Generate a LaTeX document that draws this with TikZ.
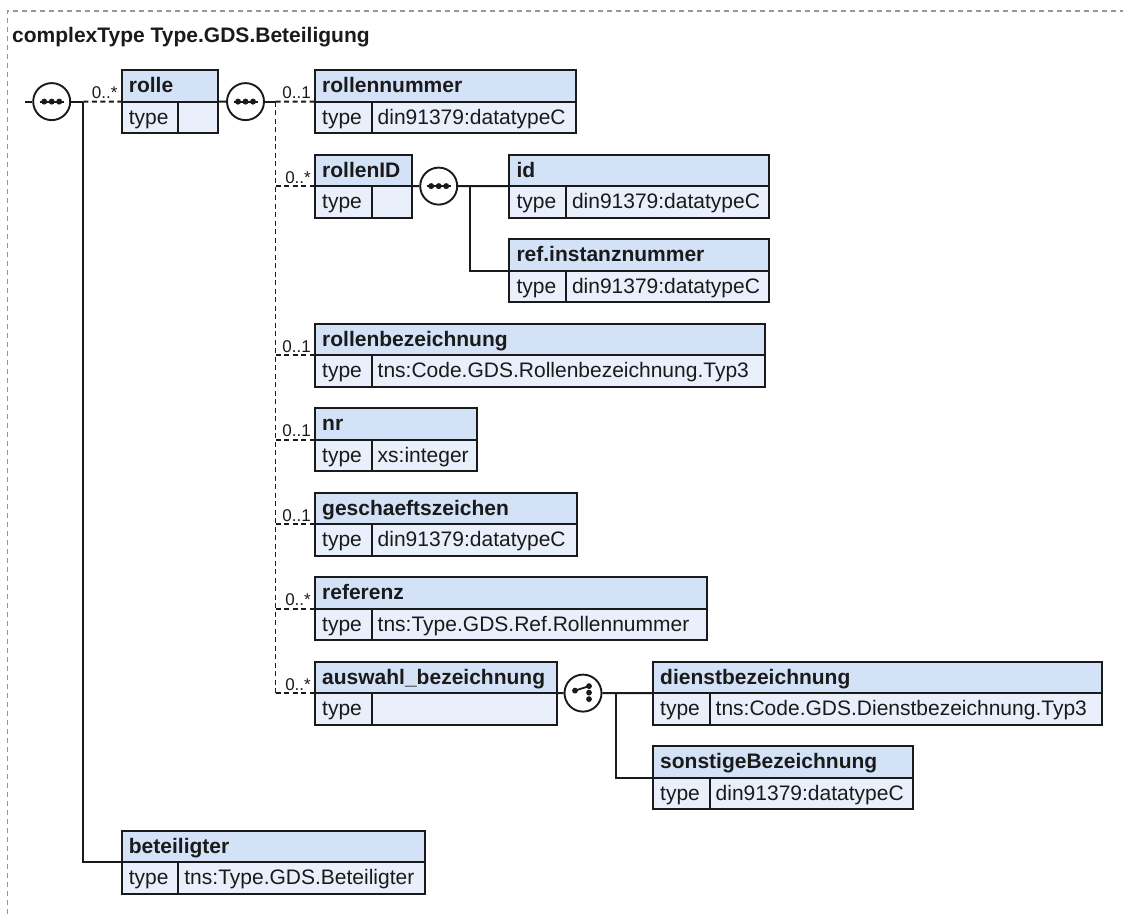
\documentclass[tikz,border=0pt]{standalone}
\usepackage{fontspec}
\setmainfont{Liberation Sans}
\definecolor{hdr}{RGB}{212,226,247}
\definecolor{typ}{RGB}{233,240,252}
\definecolor{ink}{RGB}{26,26,26}
\definecolor{framegray}{RGB}{150,150,150}
\tikzset{
  boxline/.style={draw=ink, line width=2pt},
  conn/.style={draw=ink, line width=1.9pt},
  optconn/.style={conn, dash pattern=on 5pt off 3.5pt},
  compositor/.style={circle, draw=ink, line width=1.9pt, fill=white, minimum size=37pt, inner sep=0pt},
  hdrtext/.style={font=\fontsize{21}{25}\selectfont\bfseries, text=ink, inner sep=0pt, anchor=base west},
  typtext/.style={font=\fontsize{21}{25}\selectfont, text=ink, inner sep=0pt, anchor=base west},
  mult/.style={font=\fontsize{17}{20}\selectfont, text=ink, inner sep=0pt, anchor=base east},
}
% #1 name, #2 left x, #3 top y, #4 width, #5 element name, #6 type value
\newcommand{\xsdelem}[6]{%
  \fill[hdr] (#2,#3) rectangle (#2+#4,#3+31.6);
  \fill[typ] (#2,#3+31.6) rectangle (#2+#4,#3+63.2);
  \draw[boxline] (#2,#3+31.6) -- (#2+#4,#3+31.6);
  \draw[boxline] (#2+56.5,#3+31.6) -- (#2+56.5,#3+63.2);
  \node[boxline, rectangle, inner sep=0pt, outer sep=0pt, minimum width=#4 pt, minimum height=63.2pt, anchor=north west] (#1) at (#2,#3) {};
  \node[hdrtext] (#1-name) at (#2+7,#3+22.6) {#5};
  \node[typtext] (#1-type) at (#2+7,#3+54) {type};
  \node[typtext] (#1-val) at (#2+62.5,#3+54) {#6};
}
\newcommand{\seqicon}[1]{%
  \draw[ink, line width=1.8pt] ([xshift=-12pt]#1.center) -- ([xshift=12pt]#1.center);
  \foreach \dx in {-7.5,0,7.5} \fill[ink] ([xshift=\dx pt]#1.center) circle (3pt);
}
\newcommand{\choiceicon}[1]{%
  \draw[ink, line width=1.8pt] ([xshift=-8pt,yshift=2.5pt]#1.center) -- ([xshift=6pt,yshift=7pt]#1.center);
  \fill[ink] ([xshift=-8pt,yshift=2.5pt]#1.center) circle (2.9pt);
  \fill[ink] ([xshift=6pt,yshift=7pt]#1.center) circle (2.9pt);
  \fill[ink] ([xshift=6pt,yshift=0.5pt]#1.center) circle (2.9pt);
  \fill[ink] ([xshift=6pt,yshift=-6pt]#1.center) circle (2.9pt);
}
\begin{document}
\begin{tikzpicture}[x=1pt,y=-1pt]
\useasboundingbox (0,0) rectangle (1123,914);
% frame and title
\draw[framegray, line width=1.5pt, dash pattern=on 5pt off 4pt] (7.3,914) -- (7.3,11) -- (1123,11);
\node[hdrtext] (title) at (12,42) {complexType Type.GDS.Beteiligung};

% elements
\xsdelem{rolle}{121.7}{70}{96.6}{rolle}{}
\xsdelem{rollennummer}{315}{70}{261}{rollennummer}{din91379:datatypeC}
\xsdelem{rollenID}{315}{154.5}{96.7}{rollenID}{}
\xsdelem{id}{509.3}{154.5}{260}{id}{din91379:datatypeC}
\xsdelem{refinst}{509.3}{239}{260}{ref.instanznummer}{din91379:datatypeC}
\xsdelem{rollenbez}{315}{323.5}{450}{rollenbezeichnung}{tns:Code.GDS.Rollenbezeichnung.Typ3}
\xsdelem{nr}{315}{408}{162}{nr}{xs:integer}
\xsdelem{gesch}{315}{492.5}{262}{geschaeftszeichen}{din91379:datatypeC}
\xsdelem{referenz}{315}{577}{392}{referenz}{tns:Type.GDS.Ref.Rollennummer}
\xsdelem{auswahl}{315}{661.5}{242}{auswahl\_bezeichnung}{}
\xsdelem{dienst}{653}{661.5}{449}{dienstbezeichnung}{tns:Code.GDS.Dienstbezeichnung.Typ3}
\xsdelem{sonstige}{653}{746}{260}{sonstigeBezeichnung}{din91379:datatypeC}
\xsdelem{beteiligter}{121.7}{830.5}{303.3}{beteiligter}{tns:Type.GDS.Beteiligter}

% compositors
\node[compositor] (seq1) at (51.7,101.6) {};
\node[compositor] (seq2) at (245.5,101.6) {};
\node[compositor] (seq3) at (438.7,186.1) {};
\node[compositor] (cho) at (583,693.1) {};
\seqicon{seq1}
\seqicon{seq2}
\seqicon{seq3}
\choiceicon{cho}

% connectors: top level
\coordinate (start) at (25,101.6);
\coordinate (j1) at (83.3,101.6);
\draw[conn] (start) -- (seq1.west);
\draw[conn] (seq1.east) -- (j1);
\draw[optconn] (j1) -- (rolle.west);
\draw[conn] (j1) |- (beteiligter.west);
\node[mult] (m-rolle) at ([xshift=-4pt,yshift=3pt]rolle.west) {0..*};

% connectors: rolle sequence
\coordinate (j2) at (275.5,101.6);
\draw[conn] (rolle.east) -- (seq2.west);
\draw[conn] (seq2.east) -- (j2);
\draw[optconn] (j2) -- (j2 |- auswahl.west);
\draw[optconn] (j2) -- (rollennummer.west);
\foreach \el in {rollenID,rollenbez,nr,gesch,referenz,auswahl}
  \draw[optconn] (j2 |- \el.west) -- (\el.west);
\node[mult] (m-rn) at ([xshift=-4pt,yshift=3pt]rollennummer.west) {0..1};
\node[mult] (m-rid) at ([xshift=-4pt,yshift=3pt]rollenID.west) {0..*};
\node[mult] (m-rb) at ([xshift=-4pt,yshift=3pt]rollenbez.west) {0..1};
\node[mult] (m-nr) at ([xshift=-4pt,yshift=3pt]nr.west) {0..1};
\node[mult] (m-gz) at ([xshift=-4pt,yshift=3pt]gesch.west) {0..1};
\node[mult] (m-ref) at ([xshift=-4pt,yshift=3pt]referenz.west) {0..*};
\node[mult] (m-aw) at ([xshift=-4pt,yshift=3pt]auswahl.west) {0..*};

% connectors: rollenID sequence
\coordinate (j3) at (470,186.1);
\draw[conn] (rollenID.east) -- (seq3.west);
\draw[conn] (seq3.east) -- (id.west);
\draw[conn] (j3) |- (refinst.west);

% connectors: choice
\coordinate (j4) at (616,693.1);
\draw[conn] (auswahl.east) -- (cho.west);
\draw[conn] (cho.east) -- (dienst.west);
\draw[conn] (j4) |- (sonstige.west);
\end{tikzpicture}
\end{document}
